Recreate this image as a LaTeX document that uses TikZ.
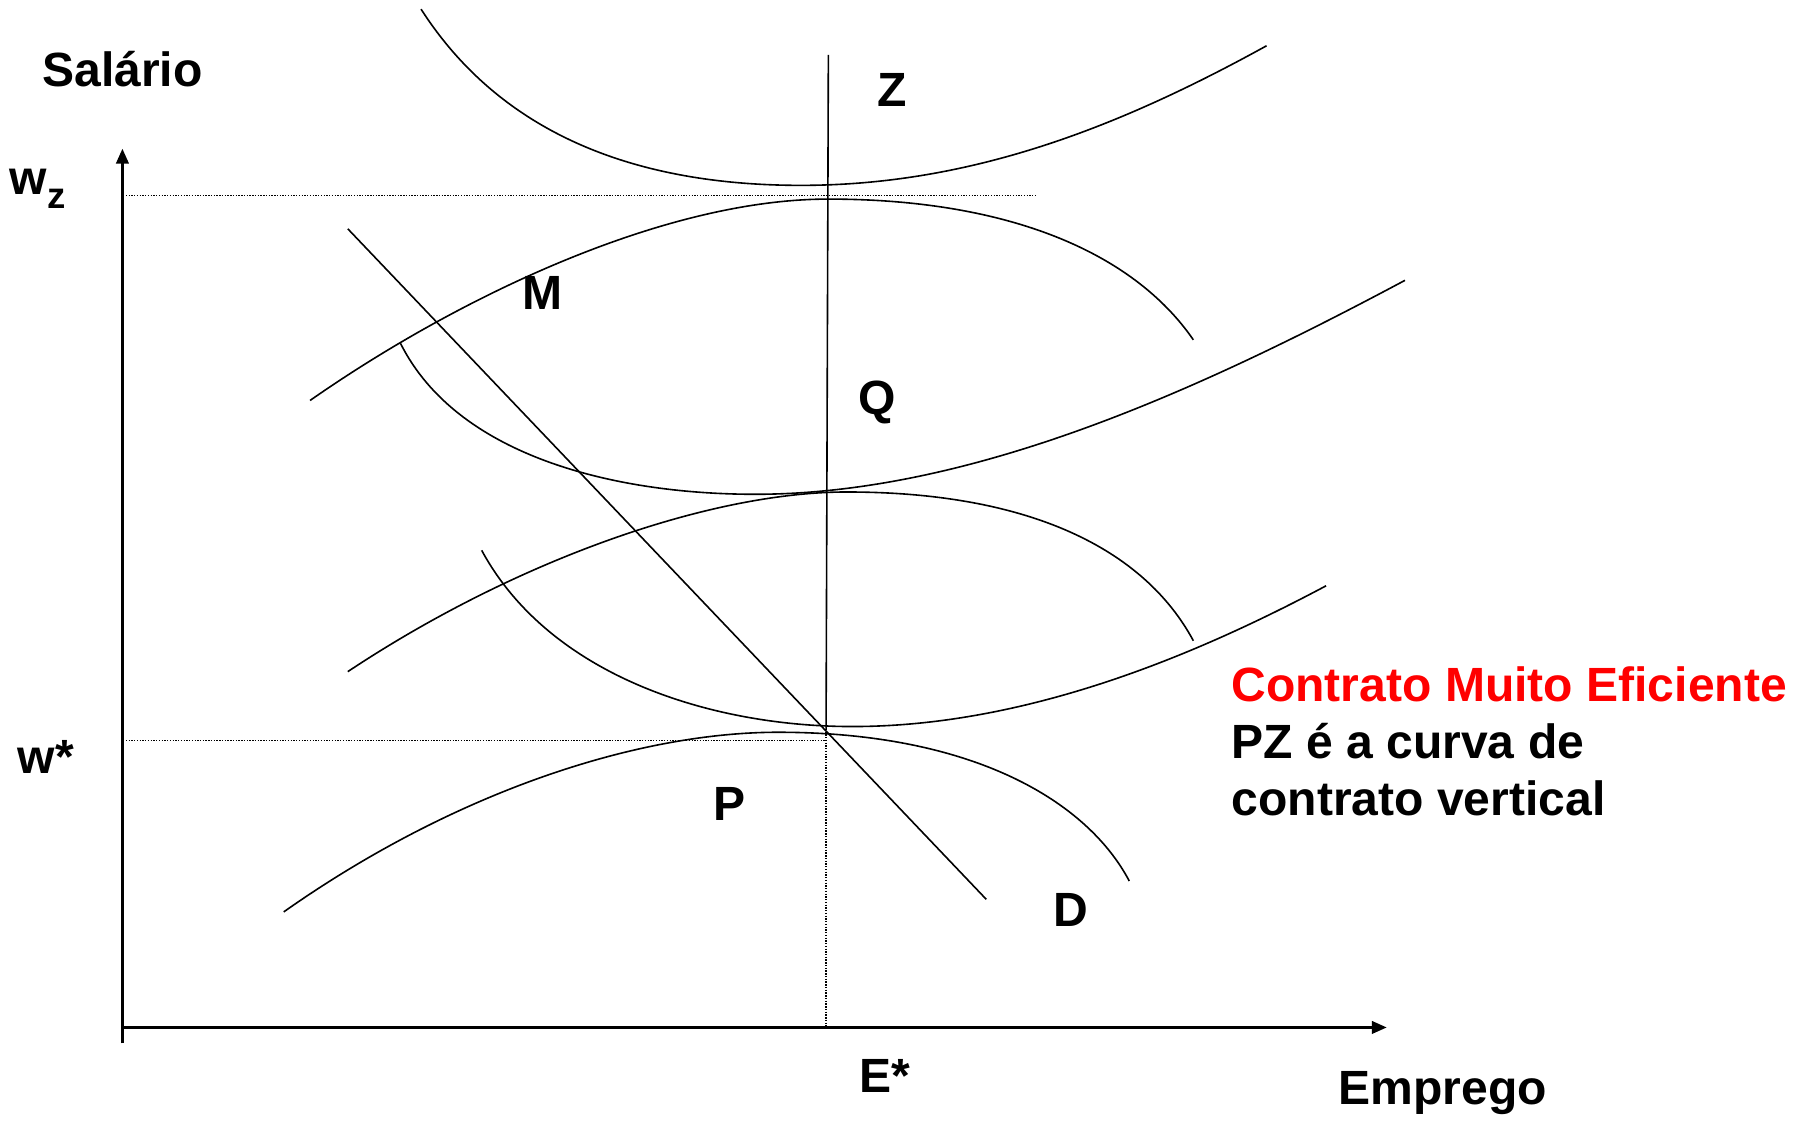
\documentclass[tikz,border=0pt]{standalone}
\usepackage{fontspec}
\setmainfont{Liberation Sans}
\usetikzlibrary{arrows.meta,positioning}
\definecolor{efred}{RGB}{255,0,0}

\begin{document}
\begin{tikzpicture}[x=0.5pt,y=-0.5pt,
  axis/.style={line width=1pt,-{Triangle[length=6.5pt,width=5.5pt]}},
  curve/.style={line width=0.7pt},
  guide/.style={line width=0.65pt,dash pattern=on 0.6pt off 0.6pt},
  lbl/.style={font=\fontsize{21}{25}\selectfont\bfseries},
  every node/.style={inner sep=0pt}]

  \useasboundingbox (0,0) rectangle (1568,981);

  % Axes
  \coordinate (O) at (107,898);
  \coordinate (ybot) at (107,912);
  \coordinate (ytop) at (107,130);
  \coordinate (xend) at (1212,898);
  \draw[axis] (ybot) -- (ytop);
  \draw[axis] (O) -- (xend);

  % Efficient point and vertical contract curve
  \coordinate (top) at (724,48);
  \coordinate (eff) at (722,637);
  \coordinate (foot) at (722,898);
  \draw[curve] (top) -- (eff);
  \draw[guide] (eff) -- (foot);

  % Wage guides
  \draw[guide] (110,171) -- (905,171);
  \draw[guide] (110,647) -- (722,647);

  % Demand
  \coordinate (d1) at (304,200);
  \coordinate (d2) at (862,786);
  \draw[curve] (d1) -- (d2);

  % Isoprofit curves (humps)
  \draw[curve] (271,350) .. controls (400,260) and (580,174) .. (724,174)
                         .. controls (880,174) and (990,220) .. (1043,297);
  \draw[curve] (304,587) .. controls (450,490) and (620,430) .. (740,430)
                         .. controls (900,430) and (1000,480) .. (1043,560);
  \draw[curve] (248,797) .. controls (400,690) and (560,640) .. (680,640)
                         .. controls (850,640) and (950,700) .. (987,770);

  % Indifference curves (union)
  \draw[curve] (368,8) .. controls (440,120) and (560,162) .. (700,162)
                       .. controls (850,162) and (980,110) .. (1107,40);
  \draw[curve] (350,300) .. controls (400,400) and (540,432) .. (660,432)
                         .. controls (850,432) and (1050,340) .. (1228,245);
  \draw[curve] (421,481) .. controls (480,590) and (620,635) .. (745,635)
                         .. controls (900,635) and (1050,570) .. (1159,512);

  % Labels
  \node[lbl] (salario) at (107,60) {Salário};
  \node[lbl] (wz) at (33,165) {w\raisebox{-0.3em}{\fontsize{16}{16}\selectfont z}};
  \node[lbl] (wstar) at (40,662) {w*};
  \node[lbl] (Z) at (780,79) {Z};
  \node[lbl] (M) at (474,256) {M};
  \node[lbl] (Q) at (767,352) {Q};
  \node[lbl] (P) at (638,703) {P};
  \node[lbl] (D) at (936,795) {D};
  \node[lbl] (Estar) at (773,940) {E*};
  \node[lbl] (emprego) at (1261,955) {Emprego};

  \node[lbl,anchor=north west,align=left] (note) at (1076,582)
    {\textcolor{efred}{Contrato Muito Eficiente}\\PZ é a curva de\\contrato vertical};

\end{tikzpicture}
\end{document}
